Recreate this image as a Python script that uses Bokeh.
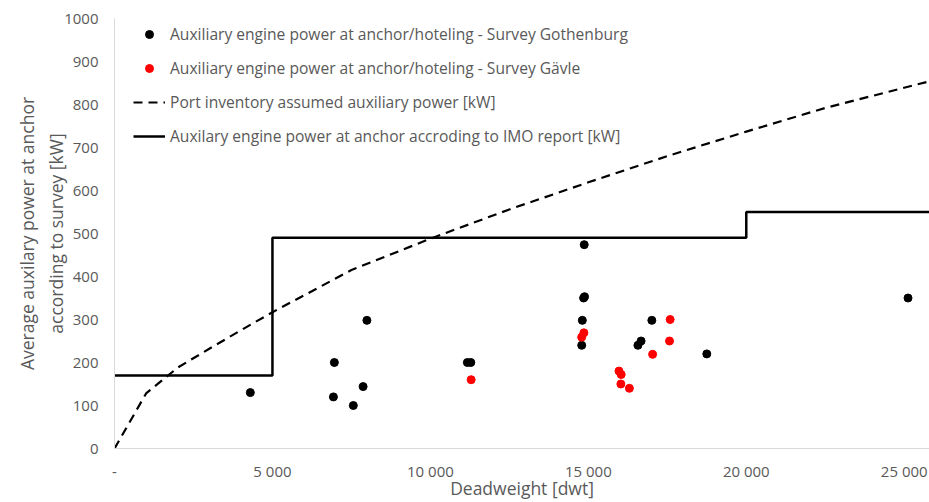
from bokeh.plotting import figure
from bokeh.models import FixedTicker, Legend, LegendItem
from bokeh.embed import file_html
from bokeh.resources import INLINE

# Survey Gothenburg
goth_x = [4300, 6930, 6960, 7560, 7870, 7990, 11170, 11280, 14870, 14850, 14880, 14810, 14790, 16570, 16670, 17010, 18750, 25120]
goth_y = [130, 120, 200, 100, 144, 298, 200, 200, 474, 350, 353, 298, 240, 240, 250, 298, 220, 350]

# Survey Gävle
gavle_x = [11290, 14790, 14860, 15970, 16040, 16030, 16300, 17035, 17570, 17590]
gavle_y = [160, 259, 269, 180, 172, 150, 140, 219, 250, 300]

# Port inventory assumed auxiliary power
port_x = [0, 1000, 2000, 3000, 4000, 5000, 7500, 10000, 12500, 15000, 17500, 20000, 22500, 25800]
port_y = [0, 128, 188, 232, 275, 317, 415, 488, 556, 619, 680, 737, 792, 854]

# IMO report step
imo_x = [0, 5000, 20000, 25800]
imo_y = [170, 490, 550, 550]

x_ticks = [0, 5000, 10000, 15000, 20000, 25000]
x_tick_labels = ["-", "5 000", "10 000", "15 000", "20 000", "25 000"]
y_ticks = [0, 100, 200, 300, 400, 500, 600, 700, 800, 900, 1000]

FONT = "Open Sans"
GREY = "#595959"

p = figure(width=929, height=502, x_range=(0, 25800), y_range=(0, 1000),
           output_backend="svg", toolbar_location=None,
           min_border_left=114, min_border_right=0, min_border_top=18, min_border_bottom=54)
p.outline_line_color = None
p.grid.visible = False
p.background_fill_color = "white"

r_port = p.line(port_x, port_y, line_color="black", line_width=2.2, line_dash="9 6")
r_imo = p.step(imo_x, imo_y, mode="after", line_color="black", line_width=2.5)
r_goth = p.scatter(goth_x, goth_y, size=8, color="black")
r_gavle = p.scatter(gavle_x, gavle_y, size=8, color="red")

xa = p.xaxis[0]
xa.ticker = FixedTicker(ticks=x_ticks)
xa.major_label_overrides = {t: l for t, l in zip(x_ticks, x_tick_labels)}
xa.axis_label = "Deadweight [dwt]"
ya = p.yaxis[0]
ya.ticker = FixedTicker(ticks=y_ticks)
ya.axis_label = "Average auxilary power at anchor\naccording to survey [kW]"

for ax in (xa, ya):
    ax.axis_line_color = "#d9d9d9"
    ax.axis_line_width = 1
    ax.major_tick_line_color = None
    ax.minor_tick_line_color = None
    ax.major_tick_out = 0
    ax.major_tick_in = 0
    ax.minor_tick_out = 0
    ax.minor_tick_in = 0
    ax.major_label_text_color = GREY
    ax.major_label_text_font = FONT
    ax.major_label_text_font_size = "15px"
    ax.axis_label_text_color = GREY
    ax.axis_label_text_font = FONT
    ax.axis_label_text_font_size = "17.5px"
    ax.axis_label_text_font_style = "normal"
xa.major_label_standoff = 12
xa.axis_label_standoff = -8
ya.major_label_standoff = 16
ya.axis_label_standoff = -7

legend = Legend(items=[
    LegendItem(label="Auxiliary engine power at anchor/hoteling - Survey Gothenburg", renderers=[r_goth]),
    LegendItem(label="Auxiliary engine power at anchor/hoteling - Survey Gävle", renderers=[r_gavle]),
    LegendItem(label="Port inventory assumed auxiliary power [kW]", renderers=[r_port]),
    LegendItem(label="Auxilary engine power at anchor accroding to IMO report [kW]", renderers=[r_imo]),
], location=(19, 301))
legend.border_line_color = None
legend.background_fill_alpha = 0
legend.label_text_color = GREY
legend.label_text_font = FONT
legend.label_text_font_size = "15.6px"
legend.glyph_width = 32
legend.glyph_height = 20
legend.label_height = 20
legend.spacing = 12
legend.padding = 0
legend.margin = 0
legend.label_standoff = 5
p.add_layout(legend)

open("out.html", "w").write(file_html(p, INLINE))
